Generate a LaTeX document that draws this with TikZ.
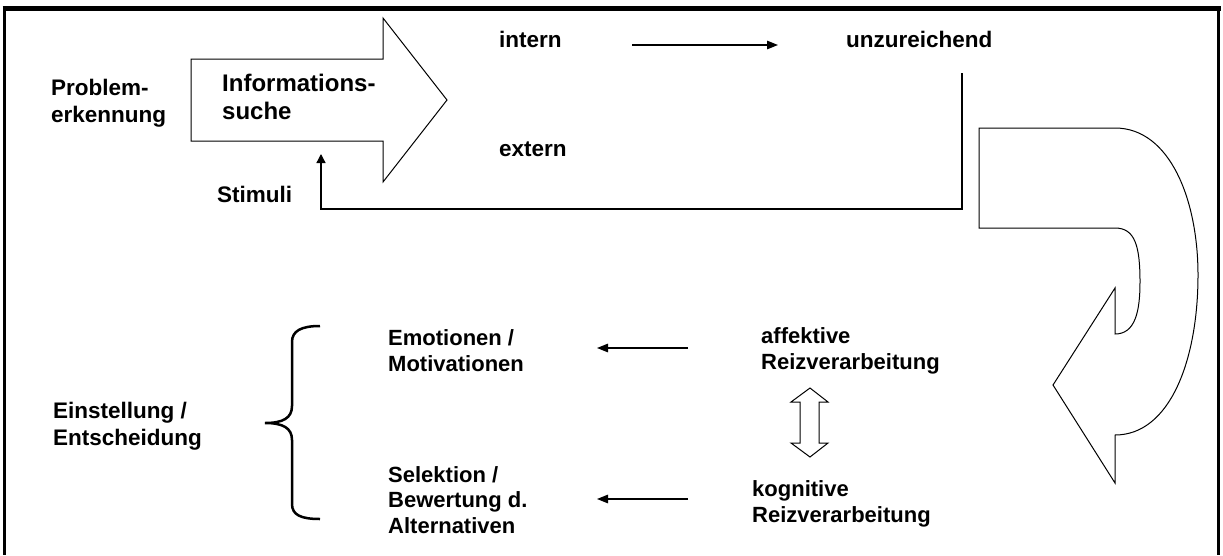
\documentclass[tikz,border=0pt]{standalone}
\usepackage{fontspec}
\setmainfont{Liberation Sans}
\usetikzlibrary{arrows.meta}
\begin{document}
\begin{tikzpicture}[x=1pt,y=-1pt,
  lbl/.style={anchor=base west, align=left, inner sep=0pt, font=\fontsize{22.5}{27}\selectfont\bfseries},
  lblb/.style={lbl, font=\fontsize{22}{25.5}\selectfont\bfseries},
  outl/.style={draw=black, line width=1pt, line join=miter},
  conn/.style={draw=black, line width=1.3pt},
  tipA/.style={-{Triangle[length=11pt,width=8.5pt]}}]
\useasboundingbox (0,0) rectangle (1223,555);
% frame
\draw[line width=5pt] (2.5,8.5) -- (1220.5,8.5);
\draw[line width=2.5pt] (4.5,6) -- (4.5,555);
\draw[line width=2.5pt] (1218.5,6) -- (1218.5,555);
% big arrow
\draw[outl] (191,59) -- (383,59) -- (383,18) -- (447,100) -- (383,182) -- (383,141) -- (191,141) -- cycle;
% texts (base anchor = baseline of last line)
\node[lbl] (problem) at (51,122) {Problem-\\erkennung};
\node[lbl, font=\fontsize{24}{28}\selectfont\bfseries] (info) at (222,119) {Informations-\\suche};
\node[lbl] (intern) at (499,47) {intern};
\node[lbl] (unz) at (846,47) {unzureichend};
\node[lbl] (extern) at (499,156) {extern};
\node[lbl] (stimuli) at (217,202) {Stimuli};
\node[lblb] (emo) at (388,371) {Emotionen /\\Motivationen};
\node[lblb] (aff) at (761,369) {affektive\\Reizverarbeitung};
\node[lbl] (ein) at (53,445) {Einstellung /\\Entscheidung};
\node[lblb] (sel) at (388,533) {Selektion /\\Bewertung d.\\Alternativen};
\node[lblb] (kog) at (752,522) {kognitive\\Reizverarbeitung};
% intern -> unzureichend
\coordinate (a1) at (632,45);
\coordinate (a2) at (778,45);
\draw[conn,tipA] (a1) -- (a2);
% feedback to stimuli
\coordinate (f1) at (962,73);
\coordinate (f2) at (321,154);
\draw[conn,-{Triangle[length=9pt,width=9pt]}] (f1) -- (962,209) -- (321,209) -- (f2);
% bottom arrows
\coordinate (b1) at (688,348);
\coordinate (b2) at (597,348);
\draw[conn,tipA] (b1) -- (b2);
\coordinate (c1) at (688,499);
\coordinate (c2) at (597,499);
\draw[conn,tipA] (c1) -- (c2);
% curved arrow
\draw[outl] (979,128) -- (1115,128)
  .. controls (1170,128) and (1198,200) .. (1198,275)
  .. controls (1198,360) and (1170,435) .. (1115,435)
  -- (1115,483) -- (1053,385) -- (1115,288) -- (1115,334)
  .. controls (1135,334) and (1140,312) .. (1140,282)
  .. controls (1140,246) and (1135,228) .. (1115,228)
  -- (979,228) -- cycle;
% double arrow
\draw[outl] (810,388) -- (828,402) -- (819,402) -- (819,443) -- (828,443) -- (810,457)
  -- (791,443) -- (800,443) -- (800,402) -- (791,402) -- cycle;
% brace
\draw[line width=2.5pt] (320,326) .. controls (301,326) and (292,331) .. (292,342) -- (292,406)
  .. controls (292,418) and (283,423) .. (265,423)
  .. controls (283,423) and (292,428) .. (292,440) -- (292,504)
  .. controls (292,515) and (301,519) .. (320,519);
\end{tikzpicture}
\end{document}
